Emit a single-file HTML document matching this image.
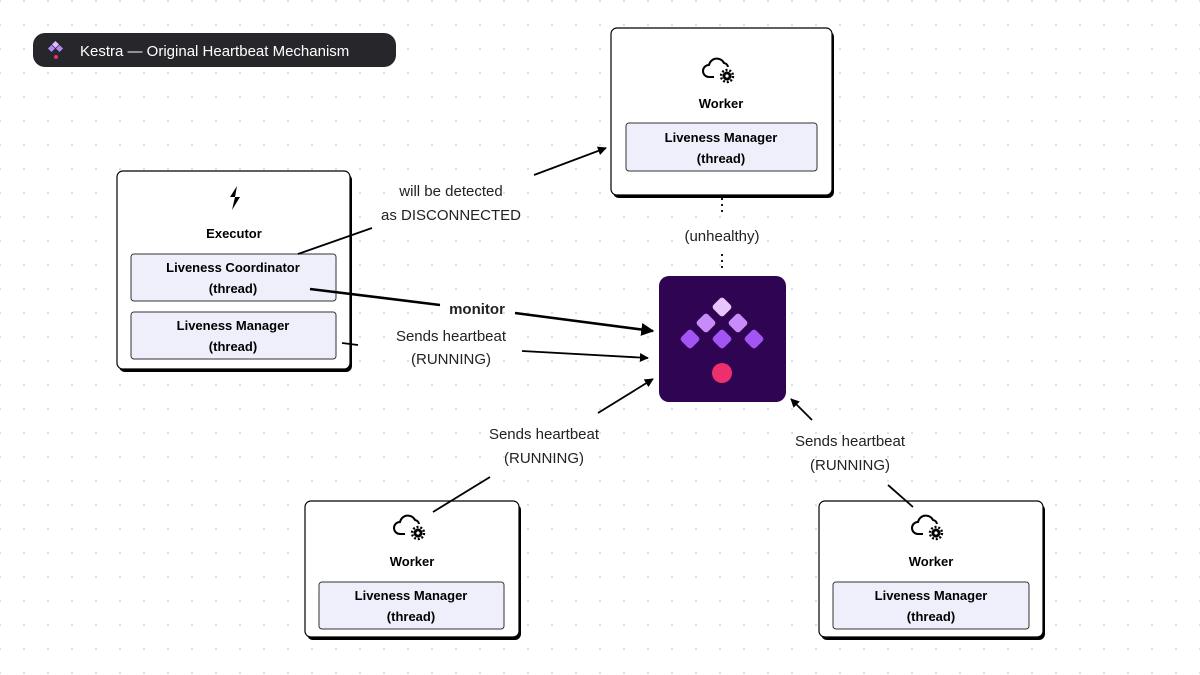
<!DOCTYPE html>
<html><head><meta charset="utf-8"><style>
html,body{margin:0;padding:0;background:#fff}
svg{display:block;font-family:"Liberation Sans",sans-serif}
</style></head><body>
<svg width="1200" height="675" viewBox="0 0 1200 675" xmlns="http://www.w3.org/2000/svg">
<defs>
<pattern id="dots" x="0" y="1" width="24" height="24" patternUnits="userSpaceOnUse">
<circle cx="0" cy="0" r="1.1" fill="#dcdcea"/><circle cx="24" cy="0" r="1.1" fill="#dcdcea"/><circle cx="0" cy="24" r="1.1" fill="#dcdcea"/><circle cx="24" cy="24" r="1.1" fill="#dcdcea"/>
</pattern>
<marker id="ah" viewBox="0 0 10 10" refX="9" refY="5" markerWidth="5" markerHeight="5" orient="auto"><path d="M0,0 L10,5 L0,10 z" fill="#000"/></marker>
<g id="cloud"><path d="M-4,8 h-5 a6,6 0 0 1 0,-12 a8,8 0 0 1 15,-2 a5,5 0 0 1 4,4" fill="none" stroke="#000" stroke-width="2"/><circle cx="9" cy="7" r="4.5" fill="#000"/><circle cx="9" cy="7" r="6" fill="none" stroke="#000" stroke-width="2.4" stroke-dasharray="2 1.8"/><circle cx="9" cy="7" r="1.6" fill="#fff"/></g>
</defs>
<rect width="1200" height="675" fill="url(#dots)"/>

<!-- title -->
<rect x="33" y="33" width="363" height="34" rx="12" fill="#26262b"/>
<g fill="#b388f5"><rect x="53" y="42" width="5" height="5" transform="rotate(45 55.5 44.5)" fill="#d9c0fa"/><rect x="49" y="46" width="5" height="5" transform="rotate(45 51.5 48.5)"/><rect x="57" y="46" width="5" height="5" transform="rotate(45 59.5 48.5)"/></g>
<circle cx="56" cy="57" r="2" fill="#ee2f6d"/>
<text x="80" y="56" font-size="15" fill="#fff">Kestra — Original Heartbeat Mechanism</text>

<g font-weight="bold" text-anchor="middle" font-size="13">
<!-- executor -->
<rect x="119" y="174" width="233" height="198" rx="6" fill="#000"/>
<rect x="117" y="171" width="233" height="198" rx="6" fill="#fff" stroke="#000" stroke-width="1.2"/>
<path d="M237,186 l-7,11 h5 l-3,13 l8,-13 h-5 z" fill="#000"/>
<text x="234" y="238">Executor</text>
<rect x="131" y="254" width="205" height="47" rx="3" fill="#efeffc" stroke="#333"/>
<text x="233" y="272">Liveness Coordinator</text><text x="233" y="293">(thread)</text>
<rect x="131" y="312" width="205" height="47" rx="3" fill="#efeffc" stroke="#333"/>
<text x="233" y="330">Liveness Manager</text><text x="233" y="351">(thread)</text>

<!-- worker top -->
<rect x="613" y="31" width="221" height="167" rx="6" fill="#000"/>
<rect x="611" y="28" width="221" height="167" rx="6" fill="#fff" stroke="#000" stroke-width="1.2"/>
<use href="#cloud" x="718" y="69"/>
<text x="721" y="108">Worker</text>
<rect x="626" y="123" width="191" height="48" rx="3" fill="#efeffc" stroke="#333"/>
<text x="721" y="142">Liveness Manager</text><text x="721" y="163">(thread)</text>

<!-- worker bl -->
<rect x="307" y="504" width="214" height="136" rx="6" fill="#000"/>
<rect x="305" y="501" width="214" height="136" rx="6" fill="#fff" stroke="#000" stroke-width="1.2"/>
<use href="#cloud" x="409" y="526"/>
<text x="412" y="566">Worker</text>
<rect x="319" y="582" width="185" height="47" rx="3" fill="#efeffc" stroke="#333"/>
<text x="411" y="600">Liveness Manager</text><text x="411" y="621">(thread)</text>

<!-- worker br -->
<rect x="821" y="504" width="224" height="136" rx="6" fill="#000"/>
<rect x="819" y="501" width="224" height="136" rx="6" fill="#fff" stroke="#000" stroke-width="1.2"/>
<use href="#cloud" x="927" y="526"/>
<text x="931" y="566">Worker</text>
<rect x="833" y="582" width="196" height="47" rx="3" fill="#efeffc" stroke="#333"/>
<text x="931" y="600">Liveness Manager</text><text x="931" y="621">(thread)</text>
</g>

<!-- logo -->
<rect x="659" y="276" width="127" height="126" rx="10" fill="#2e0453"/>
<g transform="translate(722 328)">
<rect x="-7.5" y="-7.5" width="15" height="15" rx="3" transform="translate(0 -21) rotate(45)" fill="#e6c6fb"/>
<rect x="-7.5" y="-7.5" width="15" height="15" rx="3" transform="translate(-16 -5) rotate(45)" fill="#c78cf7"/>
<rect x="-7.5" y="-7.5" width="15" height="15" rx="3" transform="translate(16 -5) rotate(45)" fill="#c78cf7"/>
<rect x="-7.5" y="-7.5" width="15" height="15" rx="3" transform="translate(-32 11) rotate(45)" fill="#a354f5"/>
<rect x="-7.5" y="-7.5" width="15" height="15" rx="3" transform="translate(0 11) rotate(45)" fill="#a354f5"/>
<rect x="-7.5" y="-7.5" width="15" height="15" rx="3" transform="translate(32 11) rotate(45)" fill="#a354f5"/>
<circle cx="0" cy="45" r="10" fill="#ee2f6d"/>
</g>

<!-- connectors -->
<g stroke="#000" fill="none" stroke-width="1.8">
<line x1="298" y1="254" x2="372" y2="228"/>
<line x1="534" y1="175" x2="606" y2="148" marker-end="url(#ah)"/>
<line x1="722" y1="198" x2="722" y2="216" stroke-dasharray="2 4"/>
<line x1="722" y1="254" x2="722" y2="272" stroke-dasharray="2 4"/>
<line x1="310" y1="289" x2="440" y2="305" stroke-width="2.6"/>
<line x1="515" y1="313" x2="653" y2="331" stroke-width="2.6" marker-end="url(#ah)"/>
<line x1="342" y1="343" x2="358" y2="345"/>
<line x1="522" y1="351" x2="648" y2="358" marker-end="url(#ah)"/>
<line x1="433" y1="512" x2="490" y2="477"/>
<line x1="598" y1="413" x2="653" y2="379" marker-end="url(#ah)"/>
<line x1="913" y1="507" x2="888" y2="485"/>
<line x1="812" y1="420" x2="791" y2="399" marker-end="url(#ah)"/>
</g>

<g font-size="15" fill="#222" text-anchor="middle">
<text x="451" y="196">will be detected</text><text x="451" y="220">as DISCONNECTED</text>
<text x="722" y="241">(unhealthy)</text>
<text x="477" y="314" font-weight="bold">monitor</text>
<text x="451" y="341">Sends heartbeat</text><text x="451" y="364">(RUNNING)</text>
<text x="544" y="439">Sends heartbeat</text><text x="544" y="463">(RUNNING)</text>
<text x="850" y="446">Sends heartbeat</text><text x="850" y="470">(RUNNING)</text>
</g>
</svg>
</body></html>
